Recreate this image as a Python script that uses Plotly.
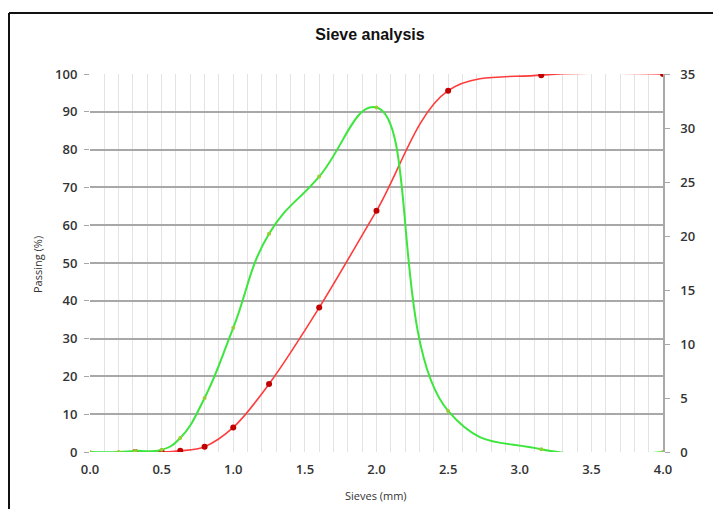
import plotly.graph_objects as go

# Data
sieves = [0.0, 0.2, 0.315, 0.5, 0.63, 0.8, 1.0, 1.25, 1.6, 2.0, 2.5, 3.15, 4.0]
passing = [None, None, 0.0, 0.0, 0.3, 1.4, 6.5, 18.0, 38.2, 63.8, 95.6, 99.7, 100.0]
retained = [0.0, 0.0, 0.1, 0.2, 1.3, 5.0, 11.5, 20.2, 25.5, 31.9, 3.8, 0.25, 0.0]

x_ticks = [0.0, 0.5, 1.0, 1.5, 2.0, 2.5, 3.0, 3.5, 4.0]
x_tick_labels = ["0.0", "0.5", "1.0", "1.5", "2.0", "2.5", "3.0", "3.5", "4.0"]

OFF = 8  # default body margin of the page
W, H = 721 - OFF, 509 - OFF
L, T = 90 - OFF, 74 - OFF
R = W - (663 - OFF)
B = H - (452 - OFF)
pw, ph = W - L - R, H - T - B


def px_x(px):
    return (px - OFF - L) / pw


def px_y(py):
    return (H - B - (py - OFF)) / ph


fig = go.Figure()

fig.add_trace(go.Scatter(
    x=sieves, y=passing, mode="lines+markers", name="Passing",
    line=dict(color="#ff3c3c", width=1.6, shape="spline", smoothing=1.0),
    marker=dict(color="#c00000", size=6),
    connectgaps=False, yaxis="y", showlegend=False,
))
fig.add_trace(go.Scatter(
    x=sieves, y=retained, mode="lines+markers", name="Retained",
    line=dict(color="#3ce63c", width=2, shape="spline", smoothing=1.3),
    marker=dict(color="#9acd32", size=4),
    yaxis="y2", showlegend=False,
))

tick_font = dict(family="Open Sans, Liberation Sans, sans-serif", size=13, color="#333333", weight=600)

fig.update_layout(
    width=W, height=H,
    margin=dict(l=L, r=R, t=T, b=B, pad=0),
    paper_bgcolor="white", plot_bgcolor="white",
    title=dict(text="<b>Sieve analysis</b>", x=(370 - OFF) / W, y=1 - (34 - OFF) / H,
               xref="container", yref="container", xanchor="center", yanchor="middle",
               font=dict(family="Liberation Sans Narrow, Liberation Sans, Arial", size=16, color="#111111")),
    xaxis=dict(
        range=[0, 4], tickvals=x_ticks, ticktext=x_tick_labels,
        showgrid=True, gridcolor="#e3e3e3", gridwidth=1,
        minor=dict(dtick=0.1, showgrid=True, gridcolor="#e3e3e3", gridwidth=1),
        zeroline=False, showline=False, ticks="", tickfont=tick_font,
        ticklabelstandoff=8,
    ),
    yaxis=dict(
        range=[0, 100], dtick=10, showgrid=True, gridcolor="#a8a8a8", gridwidth=1.5,
        zeroline=False, showline=False, ticks="outside", ticklen=5, tickcolor="#a8a8a8",
        tickfont=tick_font, ticklabelstandoff=4,
    ),
    yaxis2=dict(
        range=[0, 35], dtick=5, overlaying="y", side="right", showgrid=False,
        zeroline=False, showline=True, linecolor="#a8a8a8", linewidth=1.5,
        ticks="outside", ticklen=5, tickcolor="#a8a8a8",
        tickfont=tick_font, ticklabelstandoff=8,
    ),
    annotations=[
        dict(text="Passing (%)", x=px_x(37), y=px_y(265), xref="paper", yref="paper",
             textangle=-90, showarrow=False, xanchor="center", yanchor="middle",
             font=dict(family="Open Sans, Liberation Sans, Arial", size=11, color="#333333")),
        dict(text="Sieves (mm)", x=px_x(376), y=px_y(495), xref="paper", yref="paper",
             showarrow=False, xanchor="center", yanchor="middle",
             font=dict(family="Open Sans, Liberation Sans, Arial", size=11, color="#333333")),
    ],
    shapes=[
        dict(type="line", xref="paper", yref="paper", x0=px_x(9), x1=px_x(721), y0=px_y(13), y1=px_y(13),
             line=dict(color="#111111", width=2)),
        dict(type="line", xref="paper", yref="paper", x0=px_x(9), x1=px_x(9), y0=px_y(13), y1=px_y(509),
             line=dict(color="#111111", width=2)),
    ],
)

fig.write_html("out.html")
